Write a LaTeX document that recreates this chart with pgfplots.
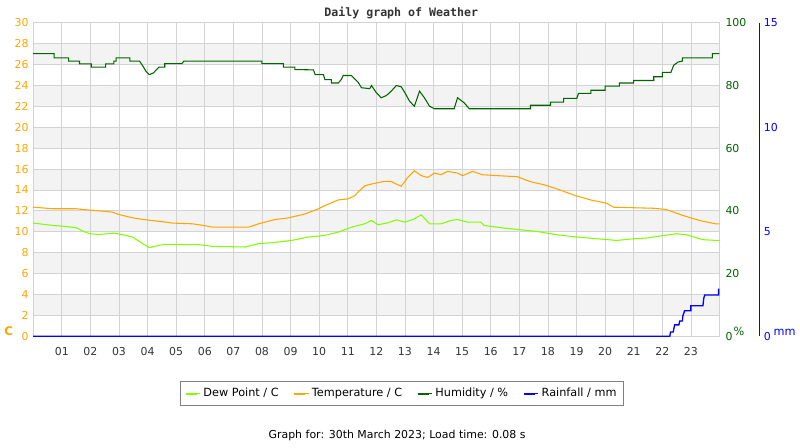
\documentclass[border=0pt]{standalone}
\usepackage{pgfplots}
\pgfplotsset{compat=1.18}
\usepackage{fontspec}
\setmainfont{DejaVu Sans}
\newfontfamily\monob{DejaVu Sans Mono}
\definecolor{tempc}{HTML}{FFA500}
\definecolor{dewc}{HTML}{7FFF00}
\definecolor{humc}{HTML}{006400}
\definecolor{rainc}{HTML}{0000FF}
\definecolor{gridc}{HTML}{D3D3D3}
\definecolor{bandc}{HTML}{F3F3F3}
\definecolor{tickc}{HTML}{333333}

\pgfplotstableread{
x y
0 12.35
0.7 12.2
1.5 12.2
1.84 12.1
2.43 11.97
2.78 11.87
3.0 11.65
3.48 11.33
3.94 11.14
4.4 11.0
4.87 10.83
5.57 10.76
6.03 10.57
6.26 10.44
7.54 10.44
7.88 10.76
8.46 11.17
8.93 11.33
9.51 11.71
9.97 12.19
10.2 12.5
10.67 13.05
11.0 13.14
11.25 13.46
11.36 13.8
11.6 14.4
11.83 14.57
12.29 14.83
12.52 14.8
12.87 14.35
13.1 15.2
13.33 15.84
13.57 15.37
13.8 15.2
14.03 15.62
14.26 15.46
14.49 15.78
14.84 15.62
15.02 15.37
15.36 15.78
15.71 15.46
16.23 15.37
16.93 15.27
17.39 14.79
17.86 14.5
18.32 14.1
18.9 13.52
19.48 13.05
20.06 12.73
20.29 12.35
21.68 12.25
22.14 12.13
22.72 11.56
23.3 11.08
23.88 10.75
24 10.75
}\temptable

\pgfplotstableread{
x y
0 10.83
0.7 10.6
1.16 10.5
1.51 10.38
1.74 10.06
1.97 9.81
2.32 9.74
2.84 9.87
3.13 9.71
3.48 9.49
3.83 8.86
4.06 8.48
4.4 8.7
4.64 8.79
5.8 8.76
6.26 8.6
7.42 8.54
7.88 8.86
8.35 8.95
9.04 9.17
9.62 9.49
10.2 9.65
10.67 9.97
11.13 10.44
11.59 10.76
11.83 11.08
12.06 10.67
12.41 10.86
12.7 11.14
12.99 10.92
13.28 11.17
13.57 11.62
13.86 10.76
14.26 10.76
14.61 11.08
14.84 11.17
15.19 10.92
15.65 10.92
15.77 10.6
16.46 10.35
16.93 10.22
17.62 10.03
18.32 9.71
19.02 9.49
19.71 9.33
20.41 9.17
20.99 9.33
21.45 9.4
21.91 9.59
22.49 9.81
22.84 9.71
23.42 9.24
23.88 9.17
24 9.17
}\dewtable

\pgfplotstableread{
x y
0 90.2
0.73 90.2
0.73 88.8
1.24 88.8
1.24 87.8
1.62 87.8
1.62 86.9
2.03 86.9
2.03 85.9
2.53 85.9
2.53 86.9
2.82 86.9
2.82 87.8
2.9 87.8
2.9 88.8
3.38 88.8
3.38 87.8
3.72 87.8
3.85 86.0
3.94 84.6
4.06 83.5
4.2 84.0
4.4 85.9
4.6 85.9
4.6 87.0
5.2 87.0
5.27 87.8
8.0 87.8
8.0 87.0
8.75 87.0
8.75 85.9
9.15 85.9
9.15 85.1
9.8 85.0
9.86 83.5
10.15 83.5
10.2 81.9
10.43 81.9
10.43 80.8
10.67 80.8
10.78 82.0
10.84 83.2
11.13 83.2
11.36 81.1
11.48 79.3
11.77 79.0
11.83 80.0
12.0 77.7
12.17 76.1
12.35 76.8
12.52 78.2
12.7 80.0
12.87 79.6
13.0 77.7
13.16 75.0
13.33 73.4
13.51 78.2
13.68 76.1
13.86 73.4
14.03 72.6
14.72 72.6
14.84 76.1
15.07 74.5
15.25 72.6
17.39 72.6
17.39 73.7
18.09 73.7
18.09 74.7
18.55 74.7
18.55 75.9
19.01 75.9
19.07 77.5
19.5 77.5
19.5 78.5
20.0 78.5
20.0 79.8
20.5 79.8
20.5 80.8
21.0 80.8
21.0 81.6
21.7 81.6
21.7 82.8
22.0 82.8
22.0 84.2
22.3 84.2
22.4 86.5
22.55 87.5
22.7 87.8
22.7 88.8
23.75 88.8
23.75 90.2
24 90.2
}\humtable

\pgfplotstableread{
x y
0 0
22.26 0
22.29 0.2
22.38 0.2
22.43 0.54
22.58 0.54
22.61 0.73
22.7 0.73
22.72 0.98
22.78 1.22
23.0 1.22
23.0 1.46
23.42 1.46
23.45 1.81
23.48 1.97
23.97 1.97
23.97 2.24
24 2.24
}\raintable

\begin{document}
\begin{tikzpicture}
\path (0,0) rectangle (600pt,337.5pt);
\pgfplotsset{
  base/.style={at={(22.5pt,84pt)}, anchor=south west, scale only axis,
    width=517.5pt, height=236.25pt, xmin=0, xmax=24,
    major tick length=0pt,
    tick label style={font=\fontsize{8.25}{10}\selectfont},
    /pgf/number format/assume math mode=true},
  band/.style={draw=none, fill=bandc, on layer=axis background, forget plot},
}
\begin{axis}[base, set layers, ymin=0, ymax=30, ytick={0,2,...,30},
  xtick={1,...,23},
  xticklabels={01,02,03,04,05,06,07,08,09,10,11,12,13,14,15,16,17,18,19,20,21,22,23},
  grid=major, grid style={gridc, line width=0.6pt},
  axis line style={gridc, line width=0.6pt},
  yticklabel style={text=tempc}, xticklabel style={text=tickc, yshift=-5pt}]
\addplot[band] coordinates {(0,2) (24,2) (24,4) (0,4) (0,2)};
\addplot[band] coordinates {(0,6) (24,6) (24,8) (0,8) (0,6)};
\addplot[band] coordinates {(0,10) (24,10) (24,12) (0,12) (0,10)};
\addplot[band] coordinates {(0,14) (24,14) (24,16) (0,16) (0,14)};
\addplot[band] coordinates {(0,18) (24,18) (24,20) (0,20) (0,18)};
\addplot[band] coordinates {(0,22) (24,22) (24,24) (0,24) (0,22)};
\addplot[band] coordinates {(0,26) (24,26) (24,28) (0,28) (0,26)};
\addplot[tempc, line width=0.8pt] table {\temptable};
\addplot[dewc, line width=0.8pt] table {\dewtable};
\end{axis}

\begin{axis}[base, ymin=0, ymax=100, axis x line=none, axis y line*=right,
  ytick={0,20,...,100}, y axis line style={draw=none},
  yticklabel style={text=humc, xshift=1pt}]
\addplot[humc, line width=0.8pt] table {\humtable};
\end{axis}

\begin{axis}[base, ymin=0, ymax=15, axis x line=none, axis y line*=right,
  axis y line shift=30pt,
  ytick={0,5,10,15}, y axis line style={rainc, line width=0.8pt, -},
  yticklabel style={text=rainc},
  legend image code/.code={\draw[#1, line width=1.5pt] (0pt,0pt) -- (8.25pt,0pt);
     \path (0pt,0pt) -- (11pt,0pt);},
  legend style={at={(0.5374,-0.1438)}, anchor=north, legend columns=4,
    draw=gray, line width=0.6pt, font=\fontsize{8.5}{10}\selectfont,
    inner xsep=3pt, inner ysep=3pt,
    /tikz/every even column/.append style={column sep=9pt}}]
\addlegendimage{dewc}
\addlegendentry{Dew Point / C}
\addlegendimage{tempc}
\addlegendentry{Temperature / C}
\addlegendimage{humc}
\addlegendentry{Humidity / \%}
\addplot[rainc, line width=1pt] table {\raintable};
\addlegendentry{Rainfall / mm}
\end{axis}

\node[text=tempc, font=\bfseries\fontsize{9}{10}\selectfont] at (4.1pt,88.1pt) {C};
\node[text=humc, font=\fontsize{8.5}{10}\selectfont] at (554.6pt,87.4pt) {\%};
\node[text=rainc, font=\fontsize{8.5}{10}\selectfont] at (589.1pt,87pt) {mm};
\node[text=tickc, font=\monob\bfseries\fontsize{8.75}{10}\selectfont] at (300pt,327.75pt) {Daily graph of Weather};
\node[text=black, font=\fontsize{8.25}{10}\selectfont] at (296.9pt,9pt) {Graph for: 30th March 2023; Load time: 0.08 s};
\end{tikzpicture}
\end{document}
